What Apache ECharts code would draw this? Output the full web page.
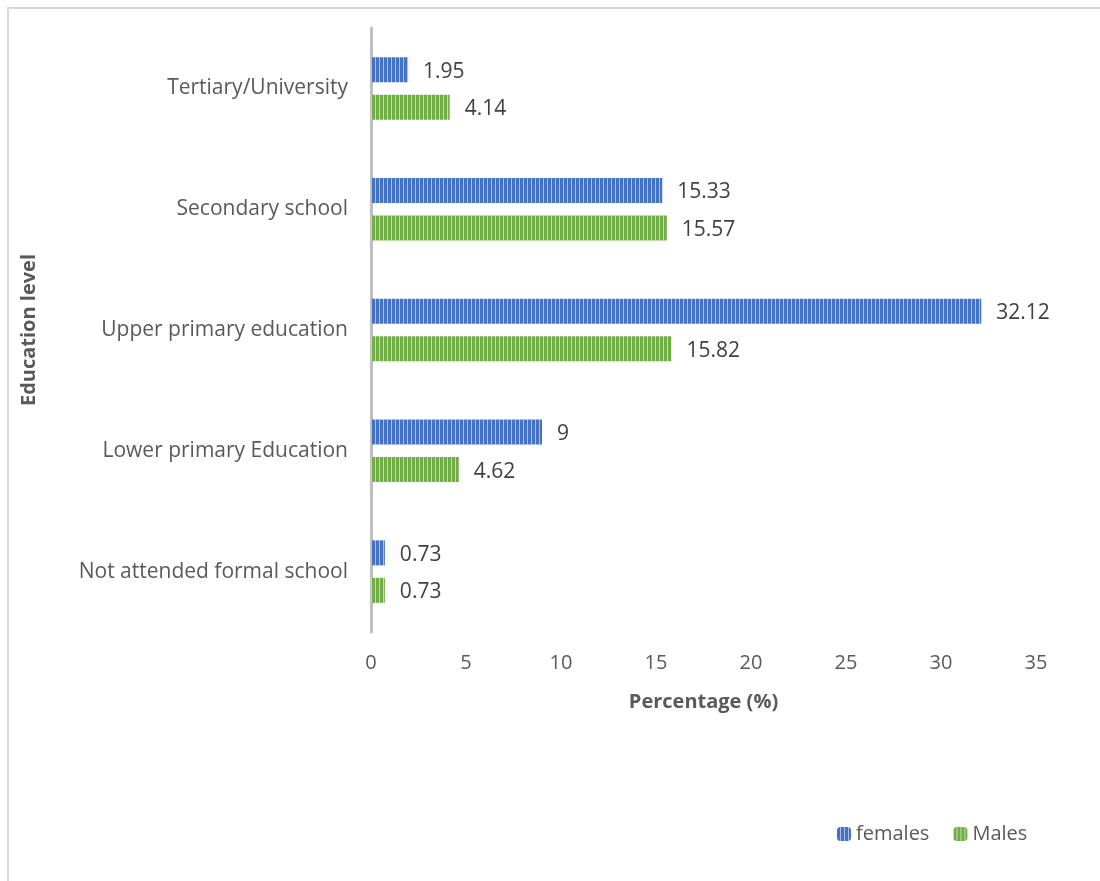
<!DOCTYPE html>
<html>
<head>
<meta charset="utf-8">
<script src="https://cdn.jsdelivr.net/npm/echarts@6/dist/echarts.min.js"></script>
<style>
  html, body { margin: 0; padding: 0; background: #fff; }
  #chart { width: 1100px; height: 881px; }
</style>
</head>
<body>
<div id="chart"></div>
<script>
const categories = ['Not attended formal school', 'Lower primary Education', 'Upper primary education', 'Secondary school', 'Tertiary/University']
const females = [0.73, 9, 32.12, 15.33, 1.95]
const males = [0.73, 4.62, 15.82, 15.57, 4.14]
const xTicks = { min: 0, max: 35, interval: 5 }

// striped fill like the office pattern
function stripes(base, light) {
    const c = document.createElement('canvas')
    c.width = 4
    c.height = 4
    const ctx = c.getContext('2d')
    ctx.fillStyle = base
    ctx.fillRect(0, 0, 4, 4)
    ctx.fillStyle = light
    ctx.fillRect(3, 0, 1, 4)
    return { image: c, repeat: 'repeat' }
}

const blue = stripes('#4472c4', '#a9bfe8')
const green = stripes('#70ad47', '#c0e0a8')
const font = '"Open Sans", sans-serif'

const chart = echarts.init(document.getElementById('chart'))
const labelStyle = {
    show: true,
    position: 'right',
    distance: 15,
    offset: [0, 2],
    color: '#404040',
    fontSize: 21,
    fontFamily: font
}
chart.setOption({
    animation: false,
    textStyle: { fontFamily: font },
    graphic: [{
        type: 'rect',
        shape: { x: 8, y: 8, width: 1200, height: 1000 },
        style: { fill: null, stroke: '#d9d9d9', lineWidth: 2 }
    }],
    grid: { left: 371, right: 64, top: 28, bottom: 249 },
    legend: {
        data: ['females', 'Males'],
        left: 832,
        top: 819,
        itemWidth: 14,
        itemHeight: 14,
        itemGap: 24,
        textStyle: { color: '#595959', fontSize: 20, fontFamily: font }
    },
    xAxis: {
        type: 'value',
        min: xTicks.min,
        max: xTicks.max,
        interval: xTicks.interval,
        splitLine: { show: false },
        axisLine: { show: false },
        axisTick: { show: false },
        axisLabel: { color: '#595959', fontSize: 20, margin: 21 },
        name: 'Percentage (%)',
        nameLocation: 'middle',
        nameGap: 60,
        nameTextStyle: { color: '#595959', fontSize: 20, fontWeight: 'bold' }
    },
    yAxis: {
        type: 'category',
        data: categories,
        axisLine: { show: true, lineStyle: { color: '#bfbfbf', width: 3 } },
        axisTick: { show: false },
        axisLabel: { color: '#595959', fontSize: 21, margin: 23 },
        name: 'Education level',
        nameLocation: 'middle',
        nameGap: 332,
        nameTextStyle: { color: '#595959', fontSize: 20, fontWeight: 'bold' }
    },
    series: [
        {
            name: 'females',
            type: 'bar',
            data: females,
            barWidth: 25,
            barGap: '50%',
            itemStyle: { color: blue },
            label: labelStyle
        },
        {
            name: 'Males',
            type: 'bar',
            data: males,
            barWidth: 25,
            itemStyle: { color: green },
            label: labelStyle
        }
    ]
})
</script>
</body>
</html>
